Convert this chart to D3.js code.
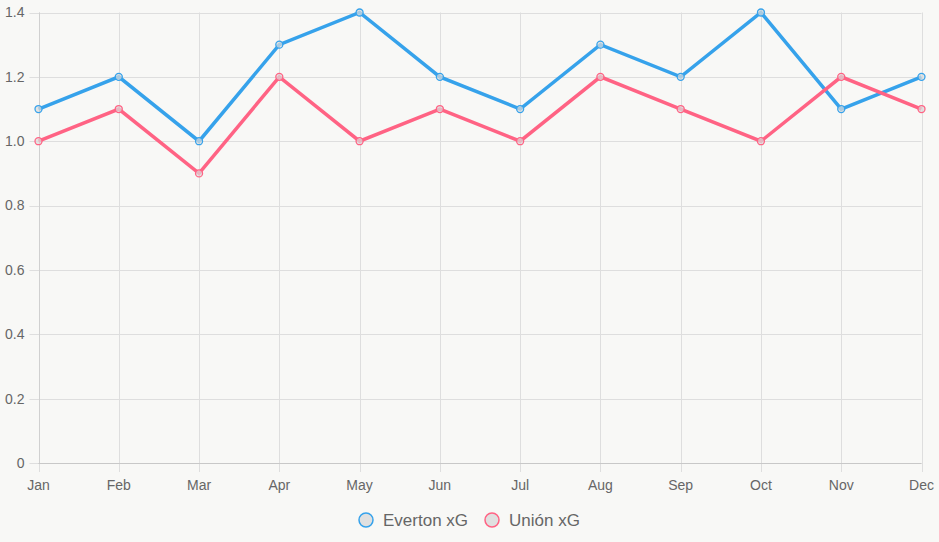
<!DOCTYPE html>
<html>
<head>
<meta charset="utf-8">
<script src="https://cdn.jsdelivr.net/npm/d3@7"></script>
<style>
  html, body { margin: 0; padding: 0; background: #f8f8f6; }
  svg { display: block; font-family: "Liberation Sans", Arial, Helvetica, sans-serif; }
</style>
</head>
<body>
<div id="chart"></div>
<script>
var width = 939,
    height = 542;

var months = ["Jan", "Feb", "Mar", "Apr", "May", "Jun", "Jul", "Aug", "Sep", "Oct", "Nov", "Dec"];
var evertonXG = [1.1, 1.2, 1.0, 1.3, 1.4, 1.2, 1.1, 1.3, 1.2, 1.4, 1.1, 1.2];
var unionXG = [1.0, 1.1, 0.9, 1.2, 1.0, 1.1, 1.0, 1.2, 1.1, 1.0, 1.2, 1.1];
var yTicks = [0, 0.2, 0.4, 0.6, 0.8, 1.0, 1.2, 1.4];

var series = [
    { name: "Everton xG", values: evertonXG, color: "#36a2eb" },
    { name: "Unión xG", values: unionXG, color: "#ff6384" }
];

var margin = { top: 12.5, right: 17.5, bottom: 79, left: 38.5 };
var gridColor = "#dedede";

var x = d3.scalePoint()
    .domain(months)
    .range([margin.left, width - margin.right]);

var y = d3.scaleLinear()
    .domain([0, 1.4])
    .range([height - margin.bottom, margin.top]);

var svg = d3.select("#chart").append("svg")
    .attr("width", width)
    .attr("height", height)
    .attr("viewBox", [0, 0, width, height]);

// horizontal grid + y ticks
svg.append("g")
    .attr("stroke", gridColor)
    .attr("stroke-width", 1)
    .selectAll("line")
    .data(yTicks)
    .join("line")
    .attr("x1", margin.left - 9)
    .attr("x2", width - margin.right)
    .attr("y1", d => Math.round(y(d)) + 0.5)
    .attr("y2", d => Math.round(y(d)) + 0.5);

// vertical grid + x ticks
svg.append("g")
    .attr("stroke", gridColor)
    .attr("stroke-width", 1)
    .selectAll("line")
    .data(months)
    .join("line")
    .attr("x1", d => Math.round(x(d)) + 0.5)
    .attr("x2", d => Math.round(x(d)) + 0.5)
    .attr("y1", margin.top)
    .attr("y2", height - margin.bottom + 9);

// axis borders
svg.append("line")
    .attr("x1", margin.left).attr("x2", width - margin.right)
    .attr("y1", Math.round(y(0)) + 0.5).attr("y2", Math.round(y(0)) + 0.5)
    .attr("stroke", "#c8c8c8");
svg.append("line")
    .attr("x1", Math.round(margin.left) + 0.5).attr("x2", Math.round(margin.left) + 0.5)
    .attr("y1", margin.top).attr("y2", height - margin.bottom)
    .attr("stroke", "#d0d0d0");

// y tick labels
svg.append("g")
    .attr("fill", "#666")
    .attr("font-size", 14)
    .attr("text-anchor", "end")
    .selectAll("text")
    .data(yTicks)
    .join("text")
    .attr("x", margin.left - 14)
    .attr("y", d => y(d))
    .attr("dy", "0.35em")
    .text(d => d === 0 ? "0" : d.toFixed(1));

// x tick labels
svg.append("g")
    .attr("fill", "#666")
    .attr("font-size", 14)
    .attr("text-anchor", "middle")
    .selectAll("text")
    .data(months)
    .join("text")
    .attr("x", d => x(d))
    .attr("y", height - margin.bottom + 22)
    .attr("dy", "0.35em")
    .text(d => d);

var line = d3.line()
    .x((d, i) => x(months[i]))
    .y(d => y(d));

var s = svg.append("g")
    .selectAll("g")
    .data(series)
    .join("g");

s.append("path")
    .attr("fill", "none")
    .attr("stroke", d => d.color)
    .attr("stroke-width", 3.5)
    .attr("stroke-linejoin", "miter")
    .attr("d", d => line(d.values));

s.selectAll("circle")
    .data(d => d.values.map((v, i) => ({ v: v, i: i, color: d.color })))
    .join("circle")
    .attr("cx", d => x(months[d.i]))
    .attr("cy", d => y(d.v))
    .attr("r", 3.5)
    .attr("fill", "#dcdcdc")
    .attr("fill-opacity", 0.7)
    .attr("stroke", d => d.color)
    .attr("stroke-width", 1.3);

// legend
var legendX = [366, 492];
var legend = svg.append("g")
    .selectAll("g")
    .data(series)
    .join("g")
    .attr("transform", (d, i) => `translate(${legendX[i]},520)`);

legend.append("circle")
    .attr("r", 7)
    .attr("fill", "#e0e0e0")
    .attr("stroke", d => d.color)
    .attr("stroke-width", 1.5);

legend.append("text")
    .attr("x", 17)
    .attr("dy", "0.35em")
    .attr("fill", "#666")
    .attr("font-size", 17)
    .text(d => d.name);
</script>
</body>
</html>
